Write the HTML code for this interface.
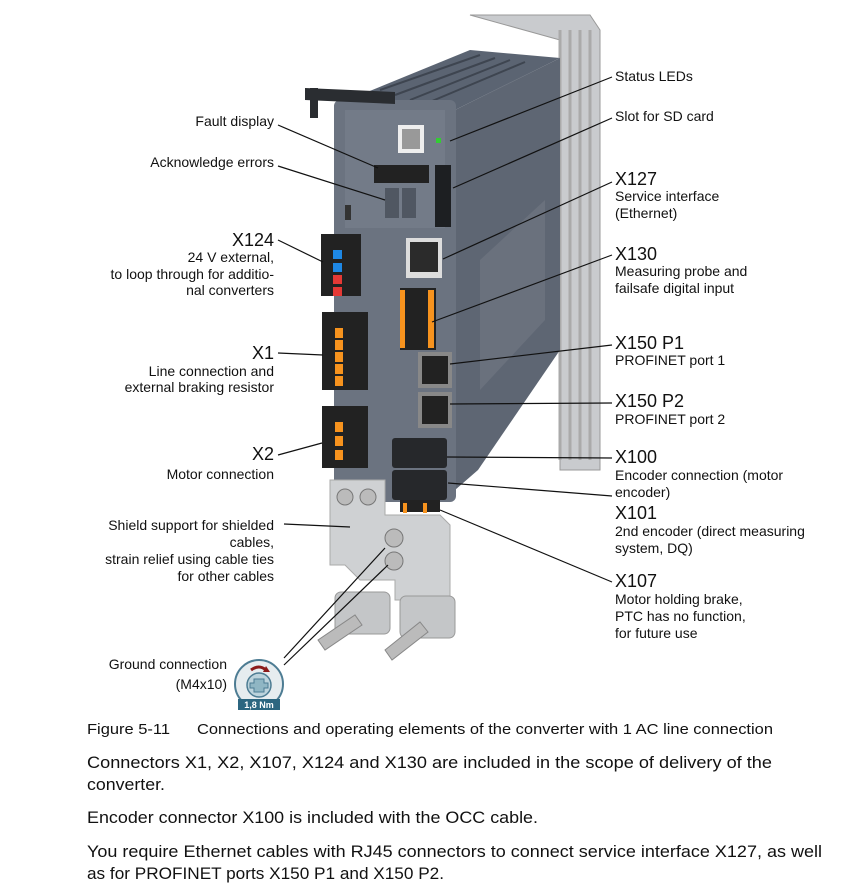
<!DOCTYPE html>
<html><head><meta charset="utf-8"><style>
html,body{margin:0;padding:0;background:#fff;}
svg{display:block;}
.t{font-family:"Liberation Sans",sans-serif;fill:#111;}
.h{font-size:18px;}
.d{font-size:14px;}
.p{font-family:"Liberation Sans",sans-serif;fill:#111;font-size:17px;}
</style></head><body>
<svg width="851" height="893" viewBox="0 0 851 893" xmlns="http://www.w3.org/2000/svg">
<!-- heat sink fins -->
<polygon points="470,15 590,15 600,30 600,470 560,470 560,40" fill="#c9cbce" stroke="#999" stroke-width="1"/>
<g stroke="#aaa" stroke-width="3" fill="none">
<line x1="560" y1="30" x2="560" y2="460"/><line x1="570" y1="30" x2="570" y2="460"/><line x1="580" y1="30" x2="580" y2="460"/><line x1="590" y1="30" x2="590" y2="460"/>
</g>
<!-- top -->
<polygon points="360,95 470,50 560,58 455,110" fill="#5b6472"/>
<g stroke="#3e4550" stroke-width="2"><line x1="380" y1="90" x2="480" y2="55"/><line x1="395" y1="95" x2="495" y2="58"/><line x1="410" y1="100" x2="510" y2="60"/><line x1="425" y1="104" x2="525" y2="62"/></g>
<!-- side face -->
<polygon points="455,110 560,58 560,350 478,470 455,490" fill="#5e6673"/>
<polygon points="480,260 545,200 545,320 480,390" fill="#6a717d"/>
<!-- front face -->
<rect x="334" y="100" width="122" height="402" rx="6" fill="#6b7380"/>
<rect x="345" y="110" width="100" height="118" fill="#737b88"/>
<!-- handle -->
<polygon points="305,88 395,92 395,104 305,100" fill="#2a2d31"/>
<rect x="310" y="88" width="8" height="30" fill="#2a2d31"/>
<!-- QR -->
<rect x="398" y="125" width="26" height="28" fill="#eee"/>
<rect x="402" y="129" width="18" height="20" fill="#999"/>
<rect x="436" y="138" width="5" height="5" fill="#3c3"/>
<!-- display -->
<rect x="374" y="165" width="55" height="18" fill="#222"/>
<rect x="385" y="188" width="14" height="30" fill="#505762"/><rect x="402" y="188" width="14" height="30" fill="#505762"/>
<rect x="345" y="205" width="6" height="15" fill="#333"/>
<!-- SD slot -->
<rect x="435" y="165" width="16" height="62" fill="#1d1f22"/>
<!-- X127 -->
<rect x="406" y="238" width="36" height="40" fill="#ddd"/><rect x="410" y="242" width="28" height="30" fill="#2b2b2b"/>
<!-- X130 -->
<rect x="400" y="288" width="36" height="62" fill="#222"/>
<g fill="#f7931e"><rect x="400" y="290" width="5" height="58"/><rect x="428" y="290" width="6" height="58"/></g>
<!-- X150 -->
<rect x="418" y="352" width="34" height="36" fill="#888"/><rect x="422" y="356" width="26" height="28" fill="#222"/>
<rect x="418" y="392" width="34" height="36" fill="#888"/><rect x="422" y="396" width="26" height="28" fill="#222"/>
<!-- X124 -->
<rect x="321" y="234" width="40" height="62" fill="#222"/>
<g fill="#1e88e5"><rect x="333" y="250" width="9" height="9"/><rect x="333" y="263" width="9" height="9"/></g>
<g fill="#e53935"><rect x="333" y="275" width="9" height="9"/><rect x="333" y="287" width="9" height="9"/></g>
<!-- X1 -->
<rect x="322" y="312" width="46" height="78" fill="#222"/>
<g fill="#f7931e"><rect x="335" y="328" width="8" height="10"/><rect x="335" y="340" width="8" height="10"/><rect x="335" y="352" width="8" height="10"/><rect x="335" y="364" width="8" height="10"/><rect x="335" y="376" width="8" height="10"/></g>
<!-- X2 -->
<rect x="322" y="406" width="46" height="62" fill="#222"/>
<g fill="#f7931e"><rect x="335" y="422" width="8" height="10"/><rect x="335" y="436" width="8" height="10"/><rect x="335" y="450" width="8" height="10"/></g>
<!-- X100 X101 -->
<rect x="392" y="438" width="55" height="30" rx="3" fill="#26282b"/>
<rect x="392" y="470" width="55" height="30" rx="3" fill="#26282b"/>
<rect x="400" y="500" width="40" height="12" fill="#222"/>
<g fill="#f7931e"><rect x="403" y="503" width="4" height="10"/><rect x="423" y="503" width="4" height="10"/></g>
<!-- shield plate -->
<polygon points="330,480 385,480 385,515 440,515 450,525 450,610 410,610 410,600 395,600 395,580 360,580 345,565 330,565" fill="#cfd1d3" stroke="#aaa"/>
<circle cx="345" cy="497" r="8" fill="#bbb" stroke="#777"/><circle cx="368" cy="497" r="8" fill="#bbb" stroke="#777"/>
<circle cx="394" cy="538" r="9" fill="#bbb" stroke="#777"/><circle cx="394" cy="561" r="9" fill="#bbb" stroke="#777"/>
<!-- clamps -->
<rect x="335" y="592" width="55" height="42" rx="6" fill="#c4c6c8" stroke="#999"/>
<rect x="400" y="596" width="55" height="42" rx="6" fill="#c4c6c8" stroke="#999"/>
<polygon points="318,640 355,615 362,625 325,650" fill="#bbb" stroke="#888"/>
<polygon points="385,650 420,622 428,632 392,660" fill="#bbb" stroke="#888"/>
<!-- torque icon -->
<circle cx="259" cy="684" r="24" fill="#e6ecef" stroke="#4d7c93" stroke-width="2"/>
<circle cx="259" cy="685" r="12" fill="#bcd3dc" stroke="#4d7c93" stroke-width="1.5"/>
<path d="M254,679h10v4h4v5h-4v4h-10v-4h-4v-5h4z" fill="#8fb6c4" stroke="#4d7c93"/>
<path d="M251,670 q8,-6 15,0" stroke="#8b1a1a" stroke-width="3" fill="none"/>
<polygon points="266,666 270,672 263,672" fill="#8b1a1a"/>
<rect x="238" y="699" width="42" height="11" fill="#2c6680"/>
<text x="259" y="708" font-family="Liberation Sans,sans-serif" font-size="9" font-weight="bold" fill="#fff" text-anchor="middle">1,8 Nm</text>
<!-- leader lines -->
<g stroke="#111" stroke-width="1.2" fill="none">
<line x1="278" y1="125" x2="378" y2="168"/>
<line x1="278" y1="166" x2="385" y2="200"/>
<line x1="278" y1="240" x2="323" y2="262"/>
<line x1="278" y1="353" x2="323" y2="355"/>
<line x1="278" y1="455" x2="322" y2="443"/>
<line x1="284" y1="524" x2="350" y2="527"/>
<line x1="284" y1="658" x2="385" y2="548"/>
<line x1="284" y1="665" x2="388" y2="565"/>
<line x1="612" y1="77" x2="450" y2="141"/>
<line x1="612" y1="118" x2="453" y2="188"/>
<line x1="612" y1="182" x2="443" y2="259"/>
<line x1="612" y1="255" x2="432" y2="322"/>
<line x1="612" y1="345" x2="450" y2="364"/>
<line x1="612" y1="403" x2="450" y2="404"/>
<line x1="612" y1="458" x2="447" y2="457"/>
<line x1="612" y1="496" x2="448" y2="483"/>
<line x1="612" y1="582" x2="440" y2="510"/>
</g>
<!-- left labels -->
<g class="t" text-anchor="end">
<text x="274" y="126" class="d">Fault display</text>
<text x="274" y="167" class="d">Acknowledge errors</text>
<text x="274" y="246" class="h">X124</text>
<text x="274" y="262" class="d">24 V external,</text>
<text x="274" y="279" class="d">to loop through for additio-</text>
<text x="274" y="295" class="d">nal converters</text>
<text x="274" y="359" class="h">X1</text>
<text x="274" y="376" class="d">Line connection and</text>
<text x="274" y="392" class="d">external braking resistor</text>
<text x="274" y="460" class="h">X2</text>
<text x="274" y="479" class="d">Motor connection</text>
<text x="274" y="530" class="d">Shield support for shielded</text>
<text x="274" y="547" class="d">cables,</text>
<text x="274" y="564" class="d">strain relief using cable ties</text>
<text x="274" y="581" class="d">for other cables</text>
<text x="227" y="669" class="d">Ground connection</text>
<text x="227" y="689" class="d">(M4x10)</text>
</g>
<!-- right labels -->
<g class="t">
<text x="615" y="81" class="d">Status LEDs</text>
<text x="615" y="121" class="d">Slot for SD card</text>
<text x="615" y="185" class="h">X127</text>
<text x="615" y="201" class="d">Service interface</text>
<text x="615" y="218" class="d">(Ethernet)</text>
<text x="615" y="260" class="h">X130</text>
<text x="615" y="276" class="d">Measuring probe and</text>
<text x="615" y="293" class="d">failsafe digital input</text>
<text x="615" y="349" class="h">X150 P1</text>
<text x="615" y="365" class="d">PROFINET port 1</text>
<text x="615" y="407" class="h">X150 P2</text>
<text x="615" y="424" class="d">PROFINET port 2</text>
<text x="615" y="463" class="h">X100</text>
<text x="615" y="480" class="d">Encoder connection (motor</text>
<text x="615" y="497" class="d">encoder)</text>
<text x="615" y="519" class="h">X101</text>
<text x="615" y="536" class="d">2nd encoder (direct measuring</text>
<text x="615" y="553" class="d">system, DQ)</text>
<text x="615" y="587" class="h">X107</text>
<text x="615" y="604" class="d">Motor holding brake,</text>
<text x="615" y="621" class="d">PTC has no function,</text>
<text x="615" y="638" class="d">for future use</text>
</g>
<!-- caption & paragraphs -->
<text x="87" y="734" class="p" font-size="15" textLength="83" lengthAdjust="spacingAndGlyphs" style="font-size:15px">Figure 5-11</text>
<text x="197" y="734" class="p" textLength="576" lengthAdjust="spacingAndGlyphs" style="font-size:15px">Connections and operating elements of the converter with 1 AC line connection</text>
<text x="87" y="768" class="p" textLength="685" lengthAdjust="spacingAndGlyphs">Connectors X1, X2, X107, X124 and X130 are included in the scope of delivery of the</text>
<text x="87" y="790" class="p" textLength="78" lengthAdjust="spacingAndGlyphs">converter.</text>
<text x="87" y="823" class="p" textLength="451" lengthAdjust="spacingAndGlyphs">Encoder connector X100 is included with the OCC cable.</text>
<text x="87" y="857" class="p" textLength="735" lengthAdjust="spacingAndGlyphs">You require Ethernet cables with RJ45 connectors to connect service interface X127, as well</text>
<text x="87" y="879" class="p" textLength="357" lengthAdjust="spacingAndGlyphs">as for PROFINET ports X150 P1 and X150 P2.</text>
</svg>
</body></html>
